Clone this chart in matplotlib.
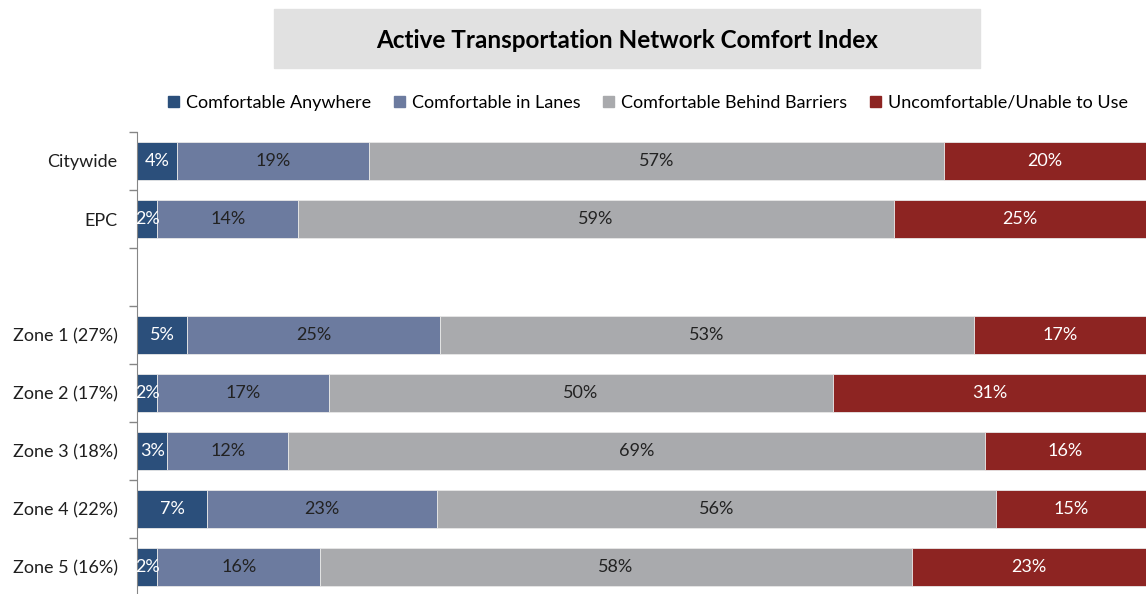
import matplotlib.pyplot as plt
from matplotlib.patches import Rectangle

# Data (percent of respondents); "" is the blank spacer row
categories = ["Citywide", "EPC", "", "Zone 1 (27%)", "Zone 2 (17%)",
              "Zone 3 (18%)", "Zone 4 (22%)", "Zone 5 (16%)"]
anywhere = [4, 2, None, 5, 2, 3, 7, 2]
in_lanes = [19, 14, None, 25, 17, 12, 23, 16]
behind_barriers = [57, 59, None, 53, 50, 69, 56, 58]
uncomfortable = [20, 25, None, 17, 31, 16, 15, 23]

series_names = ["Comfortable Anywhere", "Comfortable in Lanes",
                "Comfortable Behind Barriers", "Uncomfortable/Unable to Use"]
series_colors = ["#2b4f7b", "#6c7b9f", "#a9aaad", "#8d2422"]
label_colors = ["white", "#222222", "#222222", "white"]

FONT = "Lato"
W, H = 1146, 594

fig = plt.figure(figsize=(W / 100, H / 100), dpi=100)

# title box
fig.patches.append(Rectangle((274 / W, 1 - 68 / H), (980 - 274) / W, 59 / H,
                             transform=fig.transFigure, color="#e1e1e1", zorder=0))
fig.text(627 / W, 1 - 40 / H, "Active Transportation Network Comfort Index",
         ha="center", va="center", fontsize=17.5, fontweight="bold", family=FONT)

ax = fig.add_axes([137 / W, -2 / H, (W - 137) / W, 464 / H])

series = [anywhere, in_lanes, behind_barriers, uncomfortable]
ypos = list(range(len(categories)))
for i, y in enumerate(ypos):
    if series[0][i] is None:
        continue
    total = sum(s[i] for s in series)  # 100% stacked: rows rounded to whole percents
    left = 0
    for s, color, tcolor in zip(series, series_colors, label_colors):
        v = s[i]
        w = v * 100 / total
        ax.barh(y, w, left=left, height=0.67, color=color, edgecolor="#e8e8e8",
                linewidth=0.6)
        ax.text(left + w / 2, y, f"{v}%", ha="center", va="center", color=tcolor,
                fontsize=13, family=FONT, clip_on=True)
        left += w

ax.set_xlim(0, 100)
ax.set_ylim(len(categories) - 0.5, -0.5)
ax.set_yticks(ypos)
ax.set_yticklabels(categories, family=FONT, fontsize=13, color="#1f1f1f")
ax.set_yticks([y - 0.5 for y in ypos] + [len(categories) - 0.5], minor=True)
ax.tick_params(axis="y", which="major", length=0, pad=14)
ax.tick_params(axis="y", which="minor", length=6, color="#868686", width=1)
ax.set_xticks([])
for side in ["top", "right", "bottom"]:
    ax.spines[side].set_visible(False)
ax.spines["left"].set_color("#868686")

handles = [Rectangle((0, 0), 1, 1, color=c) for c in series_colors]
fig.legend(handles, series_names, loc="center", ncol=4,
           bbox_to_anchor=(648 / W, 1 - 103 / H), frameon=False,
           prop={"family": FONT, "size": 13}, handlelength=0.6, handleheight=0.6,
           handletextpad=0.4, columnspacing=1.25)

fig.savefig("out.png", dpi=100)
